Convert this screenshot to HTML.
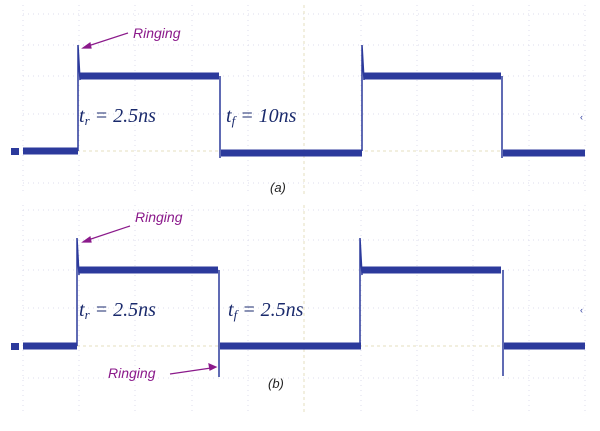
<!DOCTYPE html><html><head><style>body{margin:0;background:#fff}</style></head><body>
<svg width="600" height="426" viewBox="0 0 600 426" xmlns="http://www.w3.org/2000/svg">
<g stroke="#dde" stroke-width="1" stroke-dasharray="1 4">
<line x1="23" y1="5" x2="23" y2="195"/><line x1="79" y1="5" x2="79" y2="195"/><line x1="135" y1="5" x2="135" y2="195"/><line x1="192" y1="5" x2="192" y2="195"/><line x1="248" y1="5" x2="248" y2="195"/><line x1="361" y1="5" x2="361" y2="195"/><line x1="417" y1="5" x2="417" y2="195"/><line x1="473" y1="5" x2="473" y2="195"/><line x1="529" y1="5" x2="529" y2="195"/><line x1="585" y1="5" x2="585" y2="195"/>
<line x1="23" y1="205" x2="23" y2="415"/><line x1="79" y1="205" x2="79" y2="415"/><line x1="135" y1="205" x2="135" y2="415"/><line x1="192" y1="205" x2="192" y2="415"/><line x1="248" y1="205" x2="248" y2="415"/><line x1="361" y1="205" x2="361" y2="415"/><line x1="417" y1="205" x2="417" y2="415"/><line x1="473" y1="205" x2="473" y2="415"/><line x1="529" y1="205" x2="529" y2="415"/><line x1="585" y1="205" x2="585" y2="415"/>
<line x1="23" y1="14" x2="585" y2="14"/><line x1="23" y1="45" x2="585" y2="45"/><line x1="23" y1="76" x2="585" y2="76"/><line x1="23" y1="114" x2="585" y2="114"/><line x1="23" y1="183" x2="585" y2="183"/>
<line x1="23" y1="210" x2="585" y2="210"/><line x1="23" y1="240" x2="585" y2="240"/><line x1="23" y1="270" x2="585" y2="270"/><line x1="23" y1="308" x2="585" y2="308"/><line x1="23" y1="378" x2="585" y2="378"/>
</g>
<g stroke="#e6dfbf" stroke-width="1" stroke-dasharray="3 3"><line x1="23" y1="151" x2="585" y2="151"/><line x1="23" y1="346" x2="585" y2="346"/><line x1="304" y1="5" x2="304" y2="195"/><line x1="304" y1="205" x2="304" y2="415"/></g>
<g stroke="#2c3a9c" fill="none">
<path d="M23 151H78M221 153H362M503 153H585M80 76H219M364 76H501" stroke-width="7"/>
<path d="M23 346H77M220 346H361M504 346H585M79 270H218M362 270H501" stroke-width="7"/>
<path d="M78 151V45L80 80M220 76V158M362 151V45L364 80M502 76V158" stroke-width="1.5"/>
<path d="M77 346V238L79 275M219 270V377M360 346V238L362 275M503 270V376" stroke-width="1.5"/>
</g>
<g fill="#2c3a9c"><rect x="11" y="148" width="8" height="7"/><rect x="11" y="343" width="8" height="7"/></g>
<g font-family="Liberation Sans,sans-serif" font-style="italic" fill="#8b1a8b" font-size="14">
<text x="133" y="38">Ringing</text><text x="135" y="222">Ringing</text><text x="108" y="378">Ringing</text></g>
<g stroke="#8b1a8b" stroke-width="1.2" fill="#8b1a8b">
<line x1="128" y1="33" x2="88" y2="46"/><path d="M83 48l7-5 1 5z"/>
<line x1="130" y1="226" x2="88" y2="240"/><path d="M83 242l7-5 1 5z"/>
<line x1="170" y1="374" x2="211" y2="368"/><path d="M216 367l-7-3 1 6z"/>
</g>
<g font-family="Liberation Serif,serif" font-style="italic" fill="#1a2a6c" font-size="20">
<text x="79" y="122">t<tspan font-size="13" dy="3">r</tspan><tspan dy="-3"> = 2.5ns</tspan></text>
<text x="226" y="122">t<tspan font-size="13" dy="3">f</tspan><tspan dy="-3"> = 10ns</tspan></text>
<text x="79" y="316">t<tspan font-size="13" dy="3">r</tspan><tspan dy="-3"> = 2.5ns</tspan></text>
<text x="228" y="316">t<tspan font-size="13" dy="3">f</tspan><tspan dy="-3"> = 2.5ns</tspan></text>
</g>
<g font-family="Liberation Sans,sans-serif" font-style="italic" fill="#222" font-size="13">
<text x="270" y="192">(a)</text><text x="268" y="388">(b)</text></g>
<g fill="#2c3a9c" font-size="9" font-family="Liberation Sans,sans-serif"><text x="580" y="120">‹</text><text x="580" y="313">‹</text></g>
</svg>
</body></html>
